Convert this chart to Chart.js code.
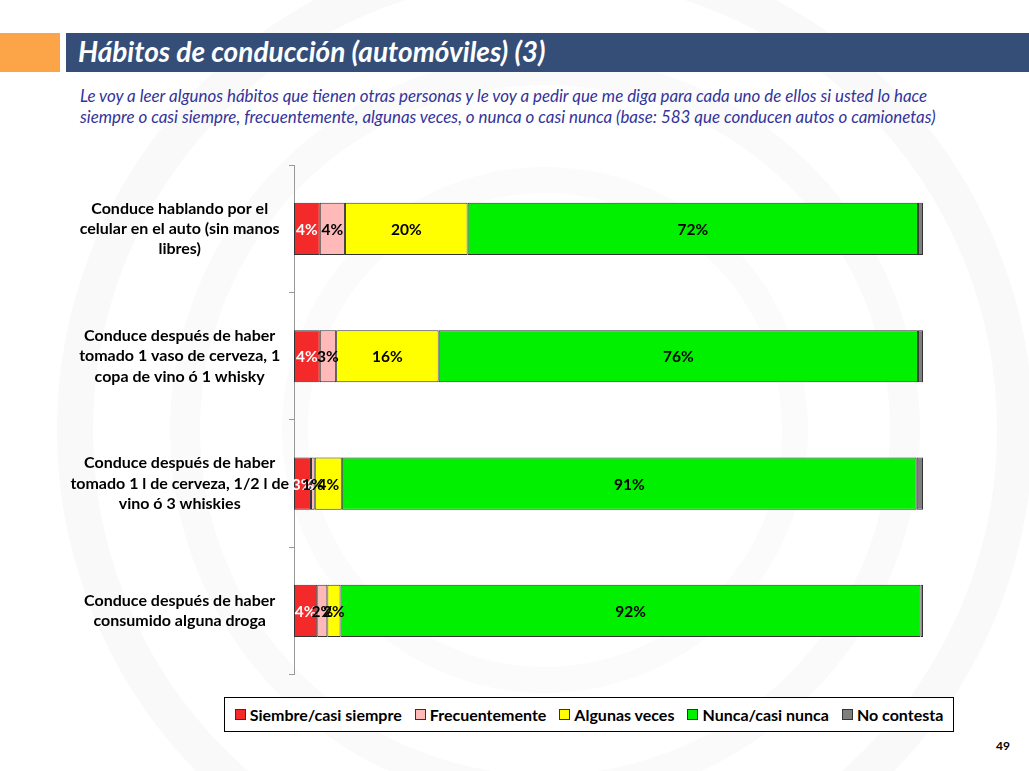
<!DOCTYPE html>
<html>
<head>
<meta charset="utf-8">
<script src="https://cdn.jsdelivr.net/npm/chart.js@4.4.1/dist/chart.umd.min.js"></script>
<style>
  body { margin: 0; background: #fff; font-family: Lato, "Open Sans", sans-serif; }
  #page { position: relative; width: 1029px; height: 771px; overflow: hidden; background: #fff; }
  #wm { position: absolute; left: 0; top: 0; }
  #orange { position: absolute; left: 0; top: 33px; width: 60px; height: 39px; background: #FBA548; }
  #bar { position: absolute; left: 66px; top: 33px; width: 963px; height: 39px; background: #344E78; }
  #title { position: absolute; left: 78px; top: 34px; color: #fff; font: italic bold 28px Lato, sans-serif; }
  #sub { position: absolute; left: 80px; top: 85px; width: 940px; color: #33339A; font: italic 16.9px Lato, sans-serif; line-height: 21px; white-space: nowrap; }
  #wrap { position: absolute; left: 0; top: 145px; width: 1029px; height: 560px; }
  #legend { position: absolute; left: 224px; top: 697px; width: 728px; height: 33px; border: 1px solid #000; background: #fff;
            display: flex; align-items: center; justify-content: center; gap: 13px; font: bold 16px Lato, sans-serif; }
  .it { display: flex; align-items: center; gap: 4px; }
  .sw { width: 9px; height: 9px; border: 1px solid #333; }
  #pg { position: absolute; left: 996px; top: 738px; font: bold 12px Lato, sans-serif; }
</style>
</head>
<body>
<div id="page">
  <svg id="wm" width="1029" height="771">
    <circle cx="545" cy="430" r="470" fill="none" stroke="#f9f9f9" stroke-width="36"/>
    <circle cx="545" cy="430" r="360" fill="none" stroke="#fafafa" stroke-width="30"/>
    <circle cx="545" cy="430" r="250" fill="none" stroke="#fbfbfb" stroke-width="26"/>
  </svg>
  <div id="orange"></div>
  <div id="bar"></div>
  <div id="title">Hábitos de conducción (automóviles) (3)</div>
  <div id="sub">Le voy a leer algunos hábitos que tienen otras personas y le voy a pedir que me diga para cada uno de ellos si usted lo hace<br>siempre o casi siempre, frecuentemente, algunas veces, o nunca o casi nunca (base: 583 que conducen autos o camionetas)</div>
  <div id="wrap"><canvas id="chart"></canvas></div>
  <div id="legend"></div>
  <div id="pg">49</div>
</div>
<script>
const categories = [
  ["Conduce hablando por el", "celular en el auto (sin manos", "libres)"],
  ["Conduce después de haber", "tomado 1 vaso de cerveza, 1", "copa de vino ó 1 whisky"],
  ["Conduce después de haber", "tomado 1 l de cerveza, 1/2 l de", "vino ó 3 whiskies"],
  ["Conduce después de haber", "consumido alguna droga"]
];
const seriesNames = ["Siembre/casi siempre", "Frecuentemente", "Algunas veces", "Nunca/casi nunca", "No contesta"];
const siempre = [4.1, 4.1, 2.7, 3.7];
const frecuente = [4.0, 2.6, 0.6, 1.6];
const algunas = [19.5, 16.3, 4.3, 2.1];
const nunca = [71.6, 76.2, 91.4, 92.2];
const noContesta = [0.8, 0.8, 1.0, 0.4];
const colors = ["#F42A2A", "#FFB9B9", "#FFFF00", "#00F000", "#7F7F7F"];
const labelColors = ["#fff", "#000", "#000", "#000", null];

const legendEl = document.getElementById('legend');
seriesNames.forEach((n, i) => {
  const d = document.createElement('div');
  d.className = 'it';
  d.innerHTML = '<span class="sw" style="background:' + colors[i] + '"></span><span>' + n + '</span>';
  legendEl.appendChild(d);
});

// etiquetas de valor dentro de las barras
const valueLabels = {
  id: 'valueLabels',
  afterDatasetsDraw(chart) {
    const ctx = chart.ctx;
    ctx.save();
    ctx.font = 'bold 15.5px Lato, sans-serif';
    ctx.textAlign = 'center';
    ctx.textBaseline = 'middle';
    chart.data.datasets.forEach((ds, i) => {
      if (!labelColors[i]) return;
      chart.getDatasetMeta(i).data.forEach((bar, j) => {
        const x = (bar.x + bar.base) / 2;
        ctx.fillStyle = labelColors[i];
        ctx.fillText(Math.round(ds.data[j]) + '%', x, bar.y + 1);
      });
    });
    ctx.restore();
  }
};

const data = [siempre, frecuente, algunas, nunca, noContesta];
new Chart(document.getElementById('chart'), {
  type: 'bar',
  data: {
    labels: categories,
    datasets: data.map((d, i) => ({
      label: seriesNames[i],
      data: d,
      backgroundColor: colors[i],
      borderColor: '#333',
      borderWidth: 1,
      borderSkipped: false,
      barPercentage: 0.41,
      categoryPercentage: 1
    }))
  },
  options: {
    indexAxis: 'y',
    responsive: true,
    maintainAspectRatio: false,
    animation: false,
    layout: { padding: { left: 0, right: 106, top: 0, bottom: 0 } },
    plugins: { legend: { display: false }, tooltip: { enabled: false } },
    scales: {
      x: { stacked: true, display: false, min: 0, max: 100 },
      y: {
        stacked: true,
        afterFit: s => { s.width = 294; },
        border: { color: '#999', width: 1 },
        grid: { offset: true, drawOnChartArea: false, tickLength: 5, color: '#999' },
        ticks: {
          crossAlign: 'center',
          padding: 0,
          color: '#000',
          font: { family: 'Lato, sans-serif', weight: 'bold', size: 16, lineHeight: 1.27 }
        }
      }
    }
  },
  plugins: [valueLabels]
});
</script>
</body>
</html>
